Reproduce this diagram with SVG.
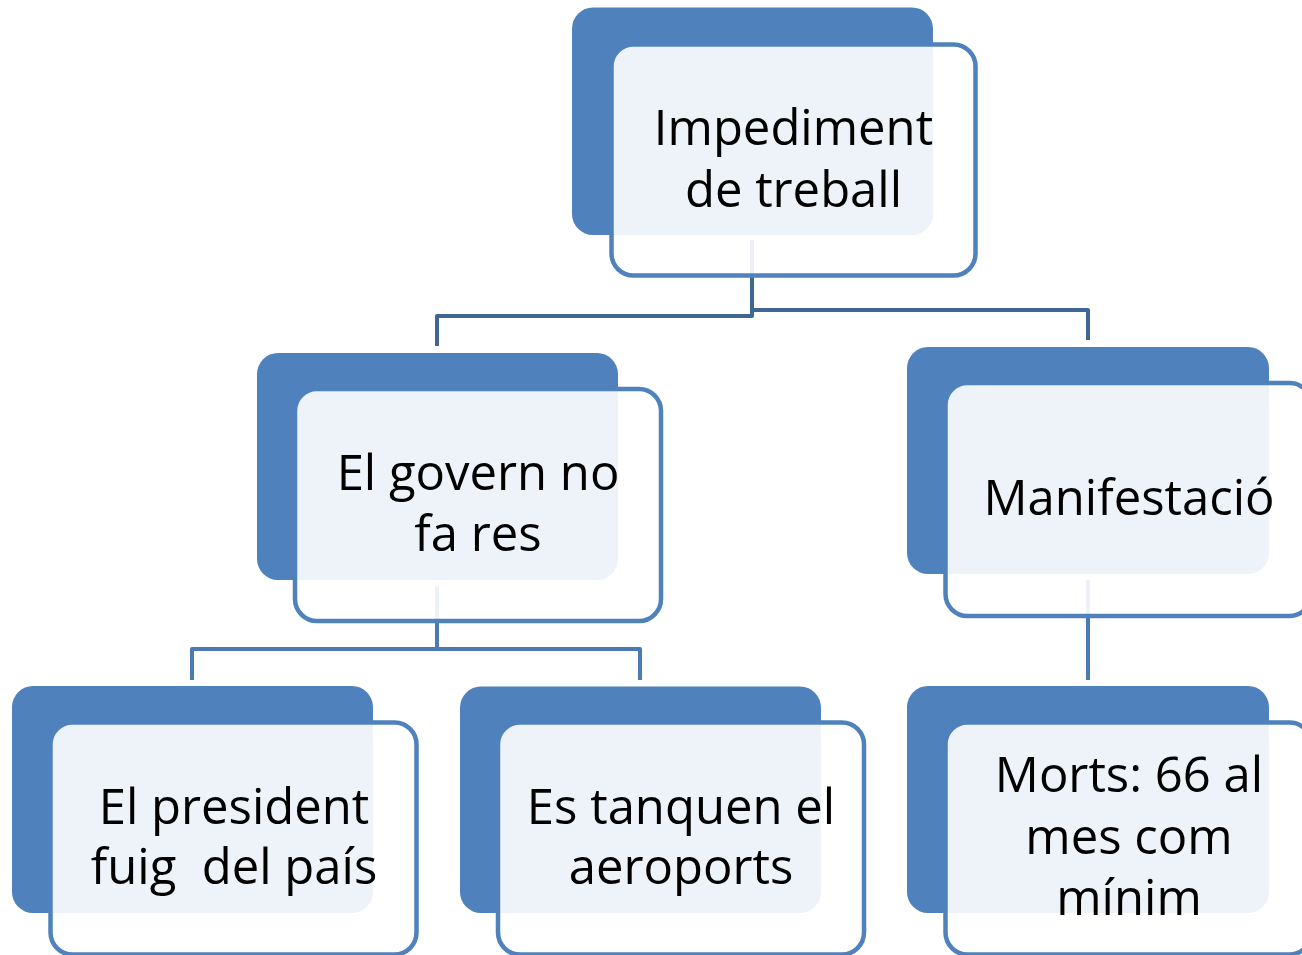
<svg xmlns="http://www.w3.org/2000/svg" width="1302" height="955" viewBox="0 0 1302 955">
<style>
.back{fill:#4F81BD;}
.front{fill:#FFFFFF;fill-opacity:0.9;stroke:#4F81BD;stroke-width:4.5;}
.lbl{font-family:"Open Sans","Noto Sans","Liberation Sans",sans-serif;font-size:49px;fill:#000000;text-anchor:middle;white-space:pre;}
.c1{fill:none;stroke:#3F6695;stroke-width:4;stroke-linejoin:round;}
.c2{fill:none;stroke:#4A7AB5;stroke-width:4;stroke-linejoin:round;}
</style>
<rect width="1302" height="955" fill="#FFFFFF"/>
<g id="connectors">
<path class="c1" d="M752,240 V316 H437 V346"/>
<path class="c1" d="M752,240 V310 H1088 V340"/>
<path class="c2" d="M437,586 V649 H192 V680"/>
<path class="c2" d="M437,586 V649 H640 V680"/>
<path class="c2" d="M1088,580 V680"/>
</g>
<g id="node-impediment">
<rect class="back" x="572" y="7.5" width="361" height="227.5" rx="21"/>
<rect class="front" x="611.5" y="44.5" width="364" height="231" rx="22"/>
<text class="lbl" x="793.5" y="145">Impediment</text>
<text class="lbl" x="793.5" y="207">de treball</text>
</g>
<g id="node-govern">
<rect class="back" x="257" y="353" width="361" height="227" rx="21"/>
<rect class="front" x="295" y="389" width="366" height="232" rx="22"/>
<text class="lbl" x="478" y="490">El govern no</text>
<text class="lbl" x="478" y="551">fa res</text>
</g>
<g id="node-manifestacio">
<rect class="back" x="907" y="347" width="362" height="227" rx="21"/>
<rect class="front" x="945.5" y="383" width="366" height="233" rx="22"/>
<text class="lbl" x="1129" y="515">Manifestació</text>
</g>
<g id="node-president">
<rect class="back" x="12" y="686" width="361" height="227" rx="21"/>
<rect class="front" x="50.5" y="722.5" width="366" height="232" rx="22"/>
<text class="lbl" x="234" y="824">El president</text>
<text class="lbl" x="234" y="884" xml:space="preserve">fuig  del país</text>
</g>
<g id="node-aeroports">
<rect class="back" x="460" y="686.5" width="361" height="226.5" rx="21"/>
<rect class="front" x="498" y="722.5" width="366" height="232" rx="22"/>
<text class="lbl" x="681" y="823.5">Es tanquen el</text>
<text class="lbl" x="681" y="884">aeroports</text>
</g>
<g id="node-morts">
<rect class="back" x="907" y="686" width="362" height="227" rx="21"/>
<rect class="front" x="945.5" y="722.5" width="366" height="232" rx="22"/>
<text class="lbl" x="1129" y="792">Morts: 66 al</text>
<text class="lbl" x="1129" y="854">mes com</text>
<text class="lbl" x="1129" y="915">mínim</text>
</g>
</svg>
